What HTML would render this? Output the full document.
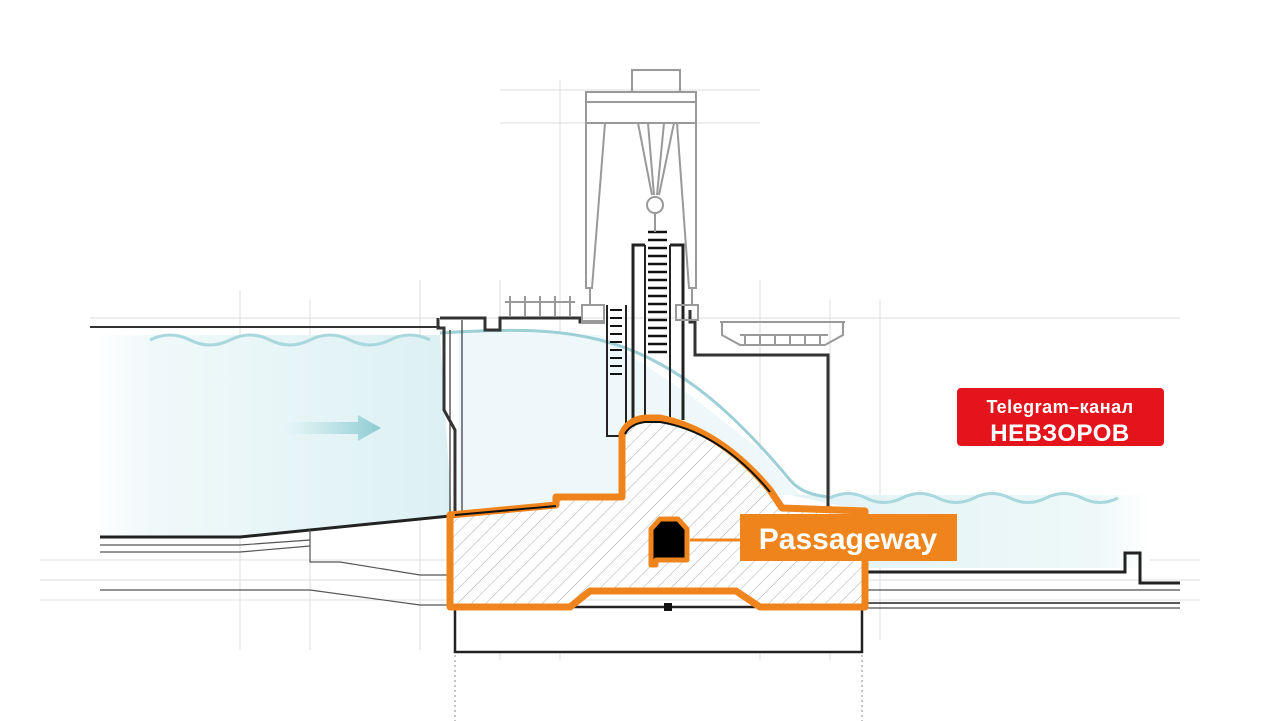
<!DOCTYPE html>
<html><head><meta charset="utf-8"><style>
html,body{margin:0;padding:0;background:#fff;}
svg{display:block;}
</style></head><body>
<svg width="1280" height="721" viewBox="0 0 1280 721" xmlns="http://www.w3.org/2000/svg">
<defs>
<linearGradient id="wl" x1="0" x2="1" y1="0" y2="0">
<stop offset="0" stop-color="#fff"/><stop offset="0.15" stop-color="#f0f9fa"/><stop offset="1" stop-color="#dcf0f3"/></linearGradient>
<linearGradient id="wr" x1="0" x2="1" y1="0" y2="0">
<stop offset="0" stop-color="#e2f3f5"/><stop offset="0.85" stop-color="#eef8f9"/><stop offset="1" stop-color="#fff"/></linearGradient>
<linearGradient id="ar" x1="0" x2="1"><stop offset="0" stop-color="#a9d9de" stop-opacity="0"/><stop offset="1" stop-color="#8ccbd2"/></linearGradient>
<pattern id="hatch" width="10" height="10" patternUnits="userSpaceOnUse" patternTransform="rotate(45)">
<rect width="10" height="10" fill="#fff"/><line x1="0" y1="0" x2="0" y2="10" stroke="#aaa" stroke-width="1"/></pattern>
</defs>
<!-- construction lines -->
<g stroke="#ddd" stroke-width="1">
<line x1="90" y1="318" x2="1180" y2="318"/><line x1="40" y1="560" x2="1200" y2="560"/>
<line x1="40" y1="580" x2="1200" y2="580"/><line x1="40" y1="600" x2="1200" y2="600"/>
<line x1="240" y1="290" x2="240" y2="650"/><line x1="310" y1="300" x2="310" y2="650"/>
<line x1="420" y1="280" x2="420" y2="650"/><line x1="500" y1="280" x2="500" y2="660"/>
<line x1="560" y1="80" x2="560" y2="660"/><line x1="760" y1="280" x2="760" y2="660"/>
<line x1="830" y1="300" x2="830" y2="660"/><line x1="880" y1="300" x2="880" y2="640"/>
<line x1="500" y1="90" x2="760" y2="90"/><line x1="500" y1="123" x2="760" y2="123"/>
</g>
<!-- upstream water -->
<path d="M95 335 L440 335 L452 515 L240 537 L95 537 Z" fill="url(#wl)"/>
<path d="M150 340 q20 -10 40 0 t40 0 t40 0 t40 0 t40 0 t40 0 t40 0" fill="none" stroke="#a8d8dd" stroke-width="3"/>
<line x1="90" y1="327" x2="440" y2="327" stroke="#333" stroke-width="2"/>
<path d="M100 537 L240 537 L450 516" fill="none" stroke="#222" stroke-width="3"/>
<g stroke="#555" fill="none" stroke-width="1.2">
<path d="M100 545 L240 545 L310 540"/><path d="M100 552 L240 552 L310 546"/>
<path d="M310 530 L310 562 L340 562 L420 575 L450 575"/>
<path d="M100 590 L310 590 L420 605 L450 605"/>
</g>
<!-- arrows -->
<path d="M285 422 L358 422 L358 415 L381 428 L358 441 L358 434 L285 434 Z" fill="url(#ar)"/>
<path d="M965 529 L1035 529 L1035 522 L1058 535 L1035 548 L1035 541 L965 541 Z" fill="url(#ar)"/>
<!-- dam interior water -->
<path d="M458 330 L600 335 L690 395 L760 450 L800 495 L620 495 L458 515 Z" fill="#eef8fa"/>
<!-- downstream water -->
<path d="M790 495 L1150 495 L1150 568 L865 568 L865 511 Z" fill="url(#wr)"/>
<path d="M830 498 q18 -9 36 0 t36 0 t36 0 t36 0 t36 0 t36 0 t36 0 t36 0" fill="none" stroke="#a8d8dd" stroke-width="3"/>
<path d="M440 333 C520 328 560 330 600 340 C680 360 740 420 790 480 C800 492 815 496 830 497" fill="none" stroke="#9ccfd6" stroke-width="3"/>
<!-- dam structure outline -->
<g fill="none" stroke="#333" stroke-width="3">
<path d="M438 318 L438 328 L444 328 L444 410 L455 430 L455 515"/>
<path d="M440 318 L485 318 L485 330 L500 330 L500 318 L580 318 L580 322 L605 322"/>
<path d="M690 310 L690 322 L695 322 L695 355 L828 355 L828 510"/>
</g>
<g fill="none" stroke="#333" stroke-width="1.2">
<line x1="450" y1="330" x2="450" y2="515"/><line x1="462" y1="320" x2="462" y2="515"/>
</g>
<!-- small shaft -->
<g stroke="#222" stroke-width="2" fill="none"><path d="M607 305 L607 436 L620 436"/><path d="M626 305 L626 432"/></g>
<g stroke="#111" stroke-width="2">
<line x1="610" y1="310" x2="622" y2="310"/><line x1="610" y1="318" x2="622" y2="318"/><line x1="610" y1="326" x2="622" y2="326"/><line x1="610" y1="334" x2="622" y2="334"/><line x1="610" y1="342" x2="622" y2="342"/><line x1="610" y1="350" x2="622" y2="350"/><line x1="610" y1="358" x2="622" y2="358"/><line x1="610" y1="366" x2="622" y2="366"/><line x1="610" y1="374" x2="622" y2="374"/></g>
<!-- main shaft -->
<g stroke="#222" stroke-width="3" fill="none">
<path d="M633 420 L633 245 L645 245"/><path d="M683 420 L683 245 L670 245"/>
<line x1="645" y1="245" x2="645" y2="420" stroke-width="2"/><line x1="670" y1="245" x2="670" y2="420" stroke-width="2"/>
</g>
<g stroke="#111" stroke-width="2.5">
<line x1="648" y1="232" x2="667" y2="232"/><line x1="648" y1="240" x2="667" y2="240"/><line x1="648" y1="248" x2="667" y2="248"/><line x1="648" y1="256" x2="667" y2="256"/><line x1="648" y1="264" x2="667" y2="264"/><line x1="648" y1="272" x2="667" y2="272"/><line x1="648" y1="280" x2="667" y2="280"/><line x1="648" y1="288" x2="667" y2="288"/><line x1="648" y1="296" x2="667" y2="296"/><line x1="648" y1="304" x2="667" y2="304"/><line x1="648" y1="312" x2="667" y2="312"/><line x1="648" y1="320" x2="667" y2="320"/><line x1="648" y1="328" x2="667" y2="328"/><line x1="648" y1="336" x2="667" y2="336"/><line x1="648" y1="344" x2="667" y2="344"/><line x1="648" y1="352" x2="667" y2="352"/>
</g>
<!-- gantry crane -->
<g fill="none" stroke="#999" stroke-width="2">
<rect x="632" y="70" width="48" height="22"/>
<rect x="586" y="92" width="110" height="31"/>
<line x1="586" y1="102" x2="696" y2="102"/>
<path d="M586 123 L586 288 L592 288 L605 123"/>
<path d="M677 123 L689 288 L696 288 L696 123"/>
<path d="M638 123 L652 195 M648 123 L654 195 M664 123 L657 195 M674 123 L659 195"/>
<circle cx="655" cy="205" r="8"/><line x1="655" y1="213" x2="655" y2="232"/>
<rect x="582" y="305" width="22" height="17"/><rect x="676" y="305" width="22" height="15"/>
<line x1="590" y1="288" x2="590" y2="305"/><line x1="692" y1="288" x2="692" y2="305"/>
<path d="M505 302 L575 302 M510 296 L510 316 M525 296 L525 316 M540 296 L540 316 M555 296 L555 316 M570 296 L570 316"/>
<path d="M720 322 L845 322 M722 322 L722 335 L740 345 L825 345 L843 335 L843 322 M740 335 L828 335"/>
<path d="M745 335 v10 M760 335 v10 M775 335 v10 M790 335 v10 M805 335 v10 M820 335 v10"/>
</g>
<!-- foundation -->
<rect x="455" y="607" width="407" height="45" fill="#fff" stroke="#222" stroke-width="2.5"/>
<g stroke="#888" stroke-dasharray="2 3"><line x1="455" y1="655" x2="455" y2="721"/><line x1="862" y1="655" x2="862" y2="721"/></g>
<rect x="664" y="603" width="8" height="8" fill="#111"/>
<!-- downstream floor -->
<g fill="none" stroke="#222">
<path d="M862 572 L1125 572 L1125 553 L1140 553 L1140 583 L1180 583" stroke-width="3"/>
<line x1="862" y1="590" x2="1180" y2="590" stroke-width="1"/><line x1="862" y1="603" x2="1180" y2="603" stroke-width="1.5"/><line x1="862" y1="608" x2="1180" y2="608" stroke-width="1"/>
</g>
<!-- orange body -->
<path d="M450 515 L556 505 L556 497 L622 497 L622 434 Q628 420 645 418 L660 418 Q720 430 770 490 L782 508 L865 511 L865 607 L760 607 L736 591 L590 591 L570 607 L450 607 Z" fill="url(#hatch)" stroke="#f0841c" stroke-width="7" stroke-linejoin="round"/>
<path d="M455 515 L556 506 M625 434 Q630 424 645 422 L660 422 Q720 432 770 492" fill="none" stroke="#111" stroke-width="2"/>
<!-- tunnel -->
<path d="M651 529 L660 519 L678 519 L687 529 L687 560 L656 560 L656 565 L651 565 Z" fill="#000" stroke="#f0841c" stroke-width="5" stroke-linejoin="round"/>
<line x1="690" y1="540" x2="742" y2="540" stroke="#f0841c" stroke-width="3"/>
<!-- passageway label -->
<rect x="740" y="514" width="217" height="47" fill="#f0841c"/>
<text x="848" y="549" text-anchor="middle" font-family="Liberation Sans, sans-serif" font-weight="bold" font-size="30" fill="#fff">Passageway</text>
<!-- telegram label -->
<rect x="957" y="388" width="207" height="58" rx="4" fill="#e3141c"/>
<text x="1060" y="413" text-anchor="middle" font-family="Liberation Sans, DejaVu Sans, sans-serif" font-size="18" font-weight="bold" fill="#fff" letter-spacing="0.5">Telegram–канал</text>
<text x="1060" y="441" text-anchor="middle" font-family="Liberation Sans, DejaVu Sans, sans-serif" font-size="24" font-weight="bold" fill="#fff" letter-spacing="0.5">НЕВЗОРОВ</text>
</svg>
</body></html>
